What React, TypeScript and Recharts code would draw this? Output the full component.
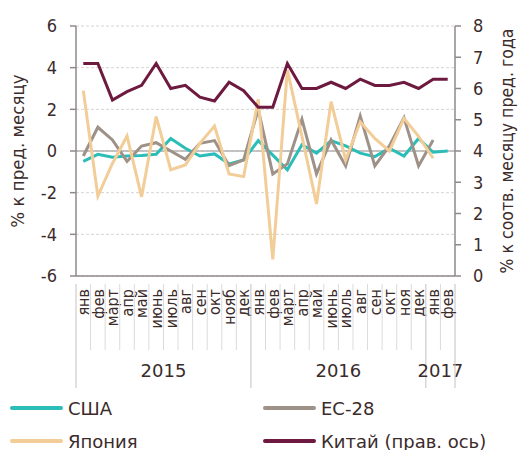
import { ComposedChart, Line, XAxis, YAxis, CartesianGrid, ReferenceLine } from 'recharts';

const months = [
    'янв', 'фев', 'март', 'апр', 'май', 'июнь', 'июль', 'авг', 'сен', 'окт', 'нояб', 'дек',
    'янв', 'фев', 'март', 'апр', 'май', 'июнь', 'июль', 'авг', 'сен', 'окт', 'ноя', 'дек',
    'янв', 'фев',
];
const years = ['2015', '2016', '2017'];

const usa = [-0.5, -0.16, -0.3, -0.24, -0.22, -0.16, 0.6, 0.13, -0.24, -0.14, -0.62, -0.43,
    0.5, -0.2, -0.9, 0.3, -0.1, 0.5, 0.25, -0.1, -0.27, 0.13, -0.24, 0.6, -0.06, 0];
const eu = [-0.24, 1.14, 0.53, -0.5, 0.24, 0.4, 0, -0.4, 0.37, 0.5, -0.7, -0.43,
    2.0, -1.1, -0.62, 1.52, -1.1, 0.53, -0.72, 1.68, -0.72, 0.24, 1.6, -0.72, 0.53, null];
const japan = [2.9, -2.16, -0.6, 0.72, -2.2, 1.65, -0.9, -0.67, 0.37, 1.2, -1.1, -1.23,
    2.48, -5.2, 3.9, 0.7, -2.54, 2.37, -0.43, 1.4, 0.6, 0, 1.57, 0.7, -0.35, null];
const china = [6.8, 6.8, 5.63, 5.9, 6.1, 6.8, 6.0, 6.1, 5.72, 5.6, 6.2, 5.93,
    5.4, 5.4, 6.8, 6.0, 6.0, 6.2, 6.0, 6.3, 6.1, 6.1, 6.2, 6.0, 6.3, 6.3];

const leftTicks = [-6, -4, -2, 0, 2, 4, 6];
const rightTicks = [0, 1, 2, 3, 4, 5, 6, 7, 8];

const data = months.map((m, i) => ({
    key: i,
    month: m,
    usa: usa[i],
    eu: eu[i],
    japan: japan[i],
    china: china[i],
}));

const W = 518;
const H = 450;
const LEFT = 76;
const RIGHT = 455;
const TOP = 26;
const BOTTOM = 276;
const band = (RIGHT - LEFT) / months.length;

const FONT = '"DejaVu Sans Condensed", "Liberation Sans Narrow", "DejaVu Sans", sans-serif';
const WIDE_FONT = '"DejaVu Sans", sans-serif';
const TEXT = '#3b2b2b';
const AXIS = '#8f8a8a';

const colors = {
    usa: '#2bbdb8',
    eu: '#9d9188',
    japan: '#f2cd98',
    china: '#6e1a40',
};

function MonthTick(props: any) {
    const { x, y, payload } = props;
    const i = payload.index;
    const left = x - band / 2;
    const yearStart = i % 12 === 0;
    const isLast = i === months.length - 1;
    const yearIdx = Math.floor(i / 12);
    const yearEnd = Math.min(yearIdx * 12 + 12, months.length);
    const yearCenter = x - band / 2 + ((yearEnd - yearIdx * 12) * band) / 2;
    return (
        <g>
            <line x1={left} y1={y} x2={left} y2={yearStart ? y + 104 : y + 66} stroke={yearStart ? '#c4c0c0' : '#dedada'} />
            {isLast && <line x1={x + band / 2} y1={y} x2={x + band / 2} y2={y + 104} stroke="#c4c0c0" />}
            <text
                x={x}
                y={y + 5}
                transform={`rotate(-90, ${x}, ${y + 5})`}
                textAnchor="end"
                dy="0.36em"
                fontSize={16}
                fontFamily={FONT}
                fill={TEXT}
            >
                {months[payload.value]}
            </text>
            {yearStart && (
                <text x={yearCenter} y={y + 93} textAnchor="middle" fontSize={18} fontFamily={WIDE_FONT} fill={TEXT}>
                    {years[yearIdx]}
                </text>
            )}
        </g>
    );
}

const legendItems = [
    { name: 'США', color: colors.usa, x: 10, y: 408 },
    { name: 'ЕС-28', color: colors.eu, x: 263, y: 408 },
    { name: 'Япония', color: colors.japan, x: 10, y: 441 },
    { name: 'Китай (прав. ось)', color: colors.china, x: 263, y: 441 },
];

export default function App() {
    return (
        <div style={{ position: 'absolute', left: 0, top: 0, width: W, height: H, background: '#fff' }}>
            <ComposedChart
                width={W}
                height={H}
                data={data}
                margin={{ top: TOP, right: 0, left: 0, bottom: 0 }}
            >
                <CartesianGrid
                    yAxisId="left"
                    vertical={false}
                    stroke="#d6d3d3"
                    strokeDasharray="3 2"
                />
                <XAxis
                    dataKey="key"
                    type="category"
                    scale="band"
                    height={H - BOTTOM}
                    interval={0}
                    tickLine={false}
                    stroke={AXIS}
                    strokeWidth={1.5}
                    tick={<MonthTick />}
                />
                <YAxis
                    yAxisId="left"
                    width={LEFT}
                    domain={[-6, 6]}
                    ticks={leftTicks}
                    stroke={AXIS}
                    strokeWidth={1.5}
                    tickSize={6}
                    tickMargin={13}
                    tick={{ fontSize: 18, fontFamily: FONT, fill: TEXT }}
                    label={{
                        content: () => (
                            <text
                                x={18}
                                y={(TOP + BOTTOM) / 2}
                                transform={`rotate(-90, 18, ${(TOP + BOTTOM) / 2})`}
                                textAnchor="middle"
                                dy="0.35em"
                                fontSize={18.5}
                                fontFamily={FONT}
                                fill={TEXT}
                            >
                                % к пред. месяцу
                            </text>
                        ),
                    }}
                />
                <YAxis
                    yAxisId="right"
                    orientation="right"
                    width={W - RIGHT}
                    domain={[0, 8]}
                    ticks={rightTicks}
                    stroke={AXIS}
                    strokeWidth={1.5}
                    tickSize={6}
                    tickMargin={12}
                    tick={{ fontSize: 18, fontFamily: FONT, fill: TEXT }}
                    label={{
                        content: () => (
                            <text
                                x={507}
                                y={(TOP + BOTTOM) / 2}
                                transform={`rotate(-90, 507, ${(TOP + BOTTOM) / 2})`}
                                textAnchor="middle"
                                dy="0.35em"
                                fontSize={17.5}
                                fontFamily={FONT}
                                fill={TEXT}
                            >
                                % к соотв. месяцу пред. года
                            </text>
                        ),
                    }}
                />
                <ReferenceLine yAxisId="left" y={0} stroke="#b5b0b0" strokeWidth={1.5} />
                <Line yAxisId="left" dataKey="usa" stroke={colors.usa} strokeWidth={3} dot={false} isAnimationActive={false} />
                <Line yAxisId="left" dataKey="eu" stroke={colors.eu} strokeWidth={3} dot={false} isAnimationActive={false} />
                <Line yAxisId="left" dataKey="japan" stroke={colors.japan} strokeWidth={3} dot={false} isAnimationActive={false} />
                <Line yAxisId="right" dataKey="china" stroke={colors.china} strokeWidth={3} dot={false} isAnimationActive={false} />
            </ComposedChart>
            {legendItems.map((it) => (
                <div
                    key={it.name}
                    style={{
                        position: 'absolute',
                        left: it.x,
                        top: it.y - 12,
                        height: 24,
                        display: 'flex',
                        alignItems: 'center',
                        fontFamily: WIDE_FONT,
                        fontSize: 18,
                        color: TEXT,
                        whiteSpace: 'nowrap',
                    }}
                >
                    <span style={{ display: 'inline-block', width: 53, height: 4, borderRadius: 2, background: it.color, marginRight: 5 }} />
                    {it.name}
                </div>
            ))}
        </div>
    );
}
